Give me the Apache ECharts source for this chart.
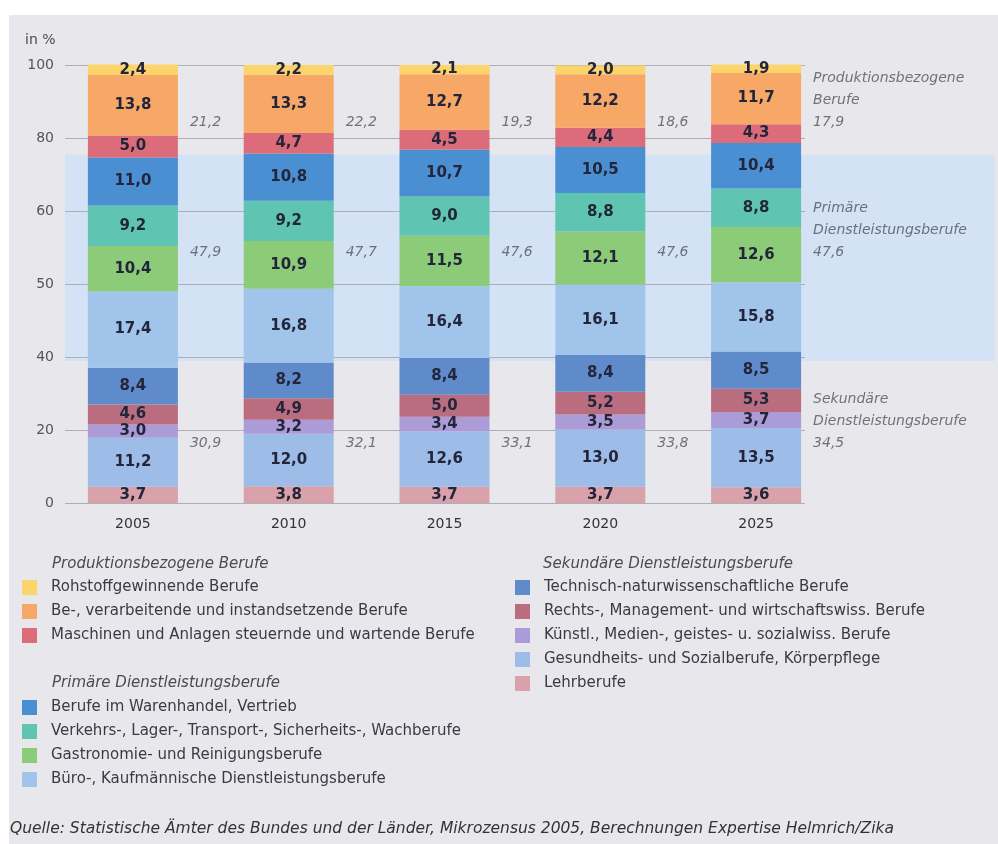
<!DOCTYPE html>
<html>
<head>
<meta charset="UTF-8">
<title>Erwerbstätige nach Berufsfeldern</title>
<script src="https://cdn.jsdelivr.net/npm/echarts@6/dist/echarts.min.js"></script>
<style>
body{margin:0;background:#fff;}
#main{position:absolute;left:9px;top:15px;width:989px;height:829px;background:#e8e8ec;}
</style>
</head>
<body>
<div id="main"></div>
<script type="text/javascript">
var years=['2005','2010','2015','2020','2025'];
var yTickLabels=['0','20','40','50','60','80','100'];

// Produktionsbezogene Berufe
var rohstoff=[2.4,2.2,2.1,2.0,1.9];
var verarbeitend=[13.8,13.3,12.7,12.2,11.7];
var maschinen=[5.0,4.7,4.5,4.4,4.3];
// Primäre Dienstleistungsberufe
var warenhandel=[11.0,10.8,10.7,10.5,10.4];
var verkehr=[9.2,9.2,9.0,8.8,8.8];
var gastro=[10.4,10.9,11.5,12.1,12.6];
var buero=[17.4,16.8,16.4,16.1,15.8];
// Sekundäre Dienstleistungsberufe
var technik=[8.4,8.2,8.4,8.4,8.5];
var recht=[4.6,4.9,5.0,5.2,5.3];
var kuenstl=[3.0,3.2,3.4,3.5,3.7];
var gesundheit=[11.2,12.0,12.6,13.0,13.5];
var lehr=[3.7,3.8,3.7,3.7,3.6];

// Summen je Gruppe
var prodTotal=[21.2,22.2,19.3,18.6,17.9];
var primTotal=[47.9,47.7,47.6,47.6,47.6];
var sekTotal=[30.9,32.1,33.1,33.8,34.5];

var groupProd=['Rohstoffgewinnende Berufe','Be-, verarbeitende und instandsetzende Berufe','Maschinen und Anlagen steuernde und wartende Berufe'];
var groupPrim=['Berufe im Warenhandel, Vertrieb','Verkehrs-, Lager-, Transport-, Sicherheits-, Wachberufe','Gastronomie- und Reinigungsberufe','Büro-, Kaufmännische Dienstleistungsberufe'];
var groupSek=['Technisch-naturwissenschaftliche Berufe','Rechts-, Management- und wirtschaftswiss. Berufe','Künstl., Medien-, geistes- u. sozialwiss. Berufe','Gesundheits- und Sozialberufe, Körperpflege','Lehrberufe'];

var font='DejaVu Sans';
var step=100/(yTickLabels.length-1);
function fmt(v){return v.toFixed(1).replace('.',',');}

// Reihenfolge von unten nach oben
var stack=[
  {name:groupSek[4],data:lehr,color:'#d9a1aa'},
  {name:groupSek[3],data:gesundheit,color:'#9dbde8'},
  {name:groupSek[2],data:kuenstl,color:'#ab9bd6'},
  {name:groupSek[1],data:recht,color:'#b96d7e'},
  {name:groupSek[0],data:technik,color:'#5f8bcb'},
  {name:groupPrim[3],data:buero,color:'#a0c4ea'},
  {name:groupPrim[2],data:gastro,color:'#8ccc78'},
  {name:groupPrim[1],data:verkehr,color:'#5fc5b2'},
  {name:groupPrim[0],data:warenhandel,color:'#4a8fd2'},
  {name:groupProd[2],data:maschinen,color:'#dd6c7b'},
  {name:groupProd[1],data:verarbeitend,color:'#f7a766'},
  {name:groupProd[0],data:rohstoff,color:'#fbd46c'}
];

var series=stack.map(function(s,i){
  var o={
    name:s.name,type:'bar',stack:'all',barWidth:90,clip:false,
    itemStyle:{color:s.color},
    label:{show:true,position:'inside',fontFamily:font,fontSize:15,fontWeight:'bold',color:'#23263a',
      formatter:function(p){return fmt(p.value);}},
    data:s.data
  };
  if(i===0){
    // hellblaues Band hinter den primären Dienstleistungsberufen
    o.markArea={silent:true,z:0.5,itemStyle:{color:'rgba(202,223,246,0.72)'},
      data:[[{x:56,yAxis:79.5},{x:986,yAxis:32.5}]]};
    // Gitterlinien (kürzer als das Raster)
    o.markLine={silent:true,z:1,symbol:'none',label:{show:false},
      lineStyle:{color:'#aeaeb6',width:1,type:'solid'},
      data:yTickLabels.map(function(t,k){return [{x:56,yAxis:k*step},{x:796,yAxis:k*step}];})};
  }
  return o;
});

function totalSeries(totals,level,title){
  return {
    type:'scatter',symbolSize:0,silent:true,clip:false,
    data:totals.map(function(v,i){return [i,level];}),
    label:{show:true,position:'inside',offset:[57,0],align:'left',verticalAlign:'bottom',
      lineHeight:22,fontFamily:font,fontStyle:'italic',fontSize:14,color:'#50545c',
      formatter:function(p){
        var t=fmt(totals[p.dataIndex]);
        return p.dataIndex===totals.length-1?title+'\n'+t:t;
      }}
  };
}
series.push(totalSeries(prodTotal,84.5,'Produktionsbezogene\nBerufe'));
series.push(totalSeries(primTotal,54.8,'Primäre\nDienstleistungsberufe'));
series.push(totalSeries(sekTotal,11.0,'Sekundäre\nDienstleistungsberufe'));

function legendBox(names,left,top){
  return {data:names,orient:'vertical',left:left,top:top,padding:0,itemGap:9,
    itemWidth:15,itemHeight:15,icon:'rect',selectedMode:false,
    textStyle:{fontFamily:font,fontSize:15,color:'#3a3a44',padding:[0,0,0,9]}};
}
function header(text,left,top,italic){
  return {text:text,left:left,top:top,padding:0,
    textStyle:{fontFamily:font,fontSize:italic?15:14,fontStyle:italic?'italic':'normal',fontWeight:'normal',color:'#4a4a52'}};
}

var myChart=echarts.init(document.getElementById('main'));
var option={
  animation:false,
  title:[
    header('in %',16,18,false),
    header('Produktionsbezogene Berufe',43,542,true),
    header('Primäre Dienstleistungsberufe',43,661,true),
    header('Sekundäre Dienstleistungsberufe',534,542,true),
    {text:'Quelle: Statistische Ämter des Bundes und der Länder, Mikrozensus 2005, Berechnungen Expertise Helmrich/Zika',
      left:1,top:806,padding:0,
      textStyle:{fontFamily:font,fontSize:15.5,fontStyle:'italic',fontWeight:'normal',color:'#333'}}
  ],
  legend:[
    legendBox(groupProd,13,565),
    legendBox(groupPrim,13,685),
    legendBox(groupSek,506,565)
  ],
  grid:{left:46,right:164,top:50,bottom:341},
  xAxis:{type:'category',data:years,
    axisLine:{show:false},axisTick:{show:false},
    axisLabel:{margin:14,fontFamily:font,fontSize:14,color:'#333'}},
  yAxis:{type:'value',min:0,max:100,interval:step,
    axisLine:{show:false},axisTick:{show:false},splitLine:{show:false},
    axisLabel:{margin:1,fontFamily:font,fontSize:14,color:'#555',
      formatter:function(v){return yTickLabels[Math.round(v/step)];}}},
  series:series
};
myChart.setOption(option);
</script>
</body>
</html>
